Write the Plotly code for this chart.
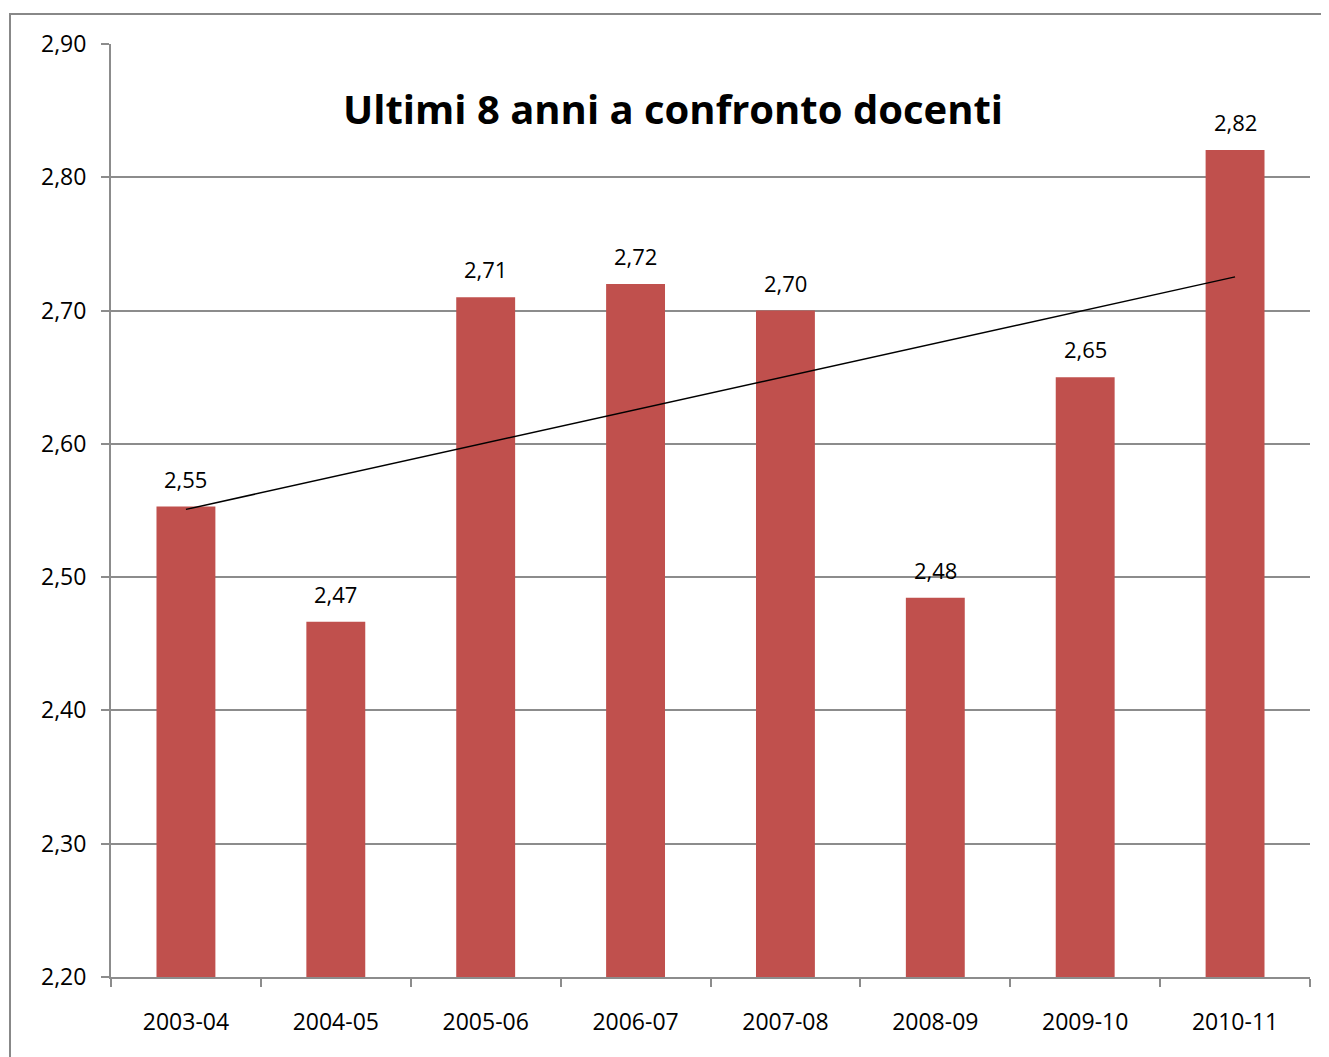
import numpy as np
import plotly.graph_objects as go

categories = ["2003-04", "2004-05", "2005-06", "2006-07", "2007-08", "2008-09", "2009-10", "2010-11"]
values = [2.553, 2.4665, 2.710, 2.720, 2.700, 2.4845, 2.650, 2.8205]
y_ticks = [2.20, 2.30, 2.40, 2.50, 2.60, 2.70, 2.80, 2.90]
title_text = "Ultimi 8 anni a confronto docenti"

BAR = "#C0504D"
GRID = "#8c8c8c"
FONT = "'Open Sans', sans-serif"

# linear trend line (least squares) over the bars
xi = np.arange(1, len(values) + 1)
slope, intercept = np.polyfit(xi, values, 1)
trend = [slope * x + intercept for x in xi]

fig = go.Figure()
fig.add_trace(go.Bar(x=categories, y=values, marker=dict(color=BAR, line=dict(width=0)),
                     showlegend=False, hoverinfo="skip"))
fig.add_trace(go.Scatter(x=categories, y=trend, mode="lines",
                         line=dict(color="black", width=1.5), showlegend=False, hoverinfo="skip"))

for c, v in zip(categories, values):
    fig.add_annotation(x=c, y=v, text=f"{v:.2f}".replace(".", ","), showarrow=False,
                       yanchor="bottom", yshift=11, font=dict(size=22, color="black", family=FONT))

fig.add_annotation(x=0.469, y=0.931, xref="paper", yref="paper", text=f"<b>{title_text}</b>",
                   showarrow=False, font=dict(size=40, color="black", family=FONT),
                   xanchor="center", yanchor="middle")

# outer chart border
fig.add_shape(type="rect", xref="paper", yref="paper",
              x0=(10 - 111) / 1199, x1=(1345 - 111) / 1199,
              y0=(977 - 1075) / 933, y1=(977 - 14) / 933,
              line=dict(color="#888888", width=2), fillcolor="rgba(0,0,0,0)", layer="below")

fig.update_layout(
    width=1321, height=1049,
    margin=dict(l=103, r=19, t=36, b=80),
    paper_bgcolor="white", plot_bgcolor="white",
    separators=",.",
    bargap=0.607,
    font=dict(family=FONT, size=22, color="black"),
)
fig.update_xaxes(type="category", showgrid=False, showline=True, linecolor=GRID, linewidth=2,
                 ticks="outside", tickson="boundaries", ticklen=8, tickcolor=GRID, tickwidth=2,
                 tickfont=dict(size=23, family=FONT), ticklabelstandoff=23)
fig.update_yaxes(range=[2.20, 2.90], tickvals=y_ticks, tickformat=".2f",
                 showgrid=True, gridcolor=GRID, gridwidth=2, zeroline=False,
                 showline=True, linecolor=GRID, linewidth=2,
                 ticks="outside", ticklen=8, tickcolor=GRID, tickwidth=2,
                 tickfont=dict(size=23, family=FONT), ticklabelstandoff=10)

fig.write_html("out.html")
